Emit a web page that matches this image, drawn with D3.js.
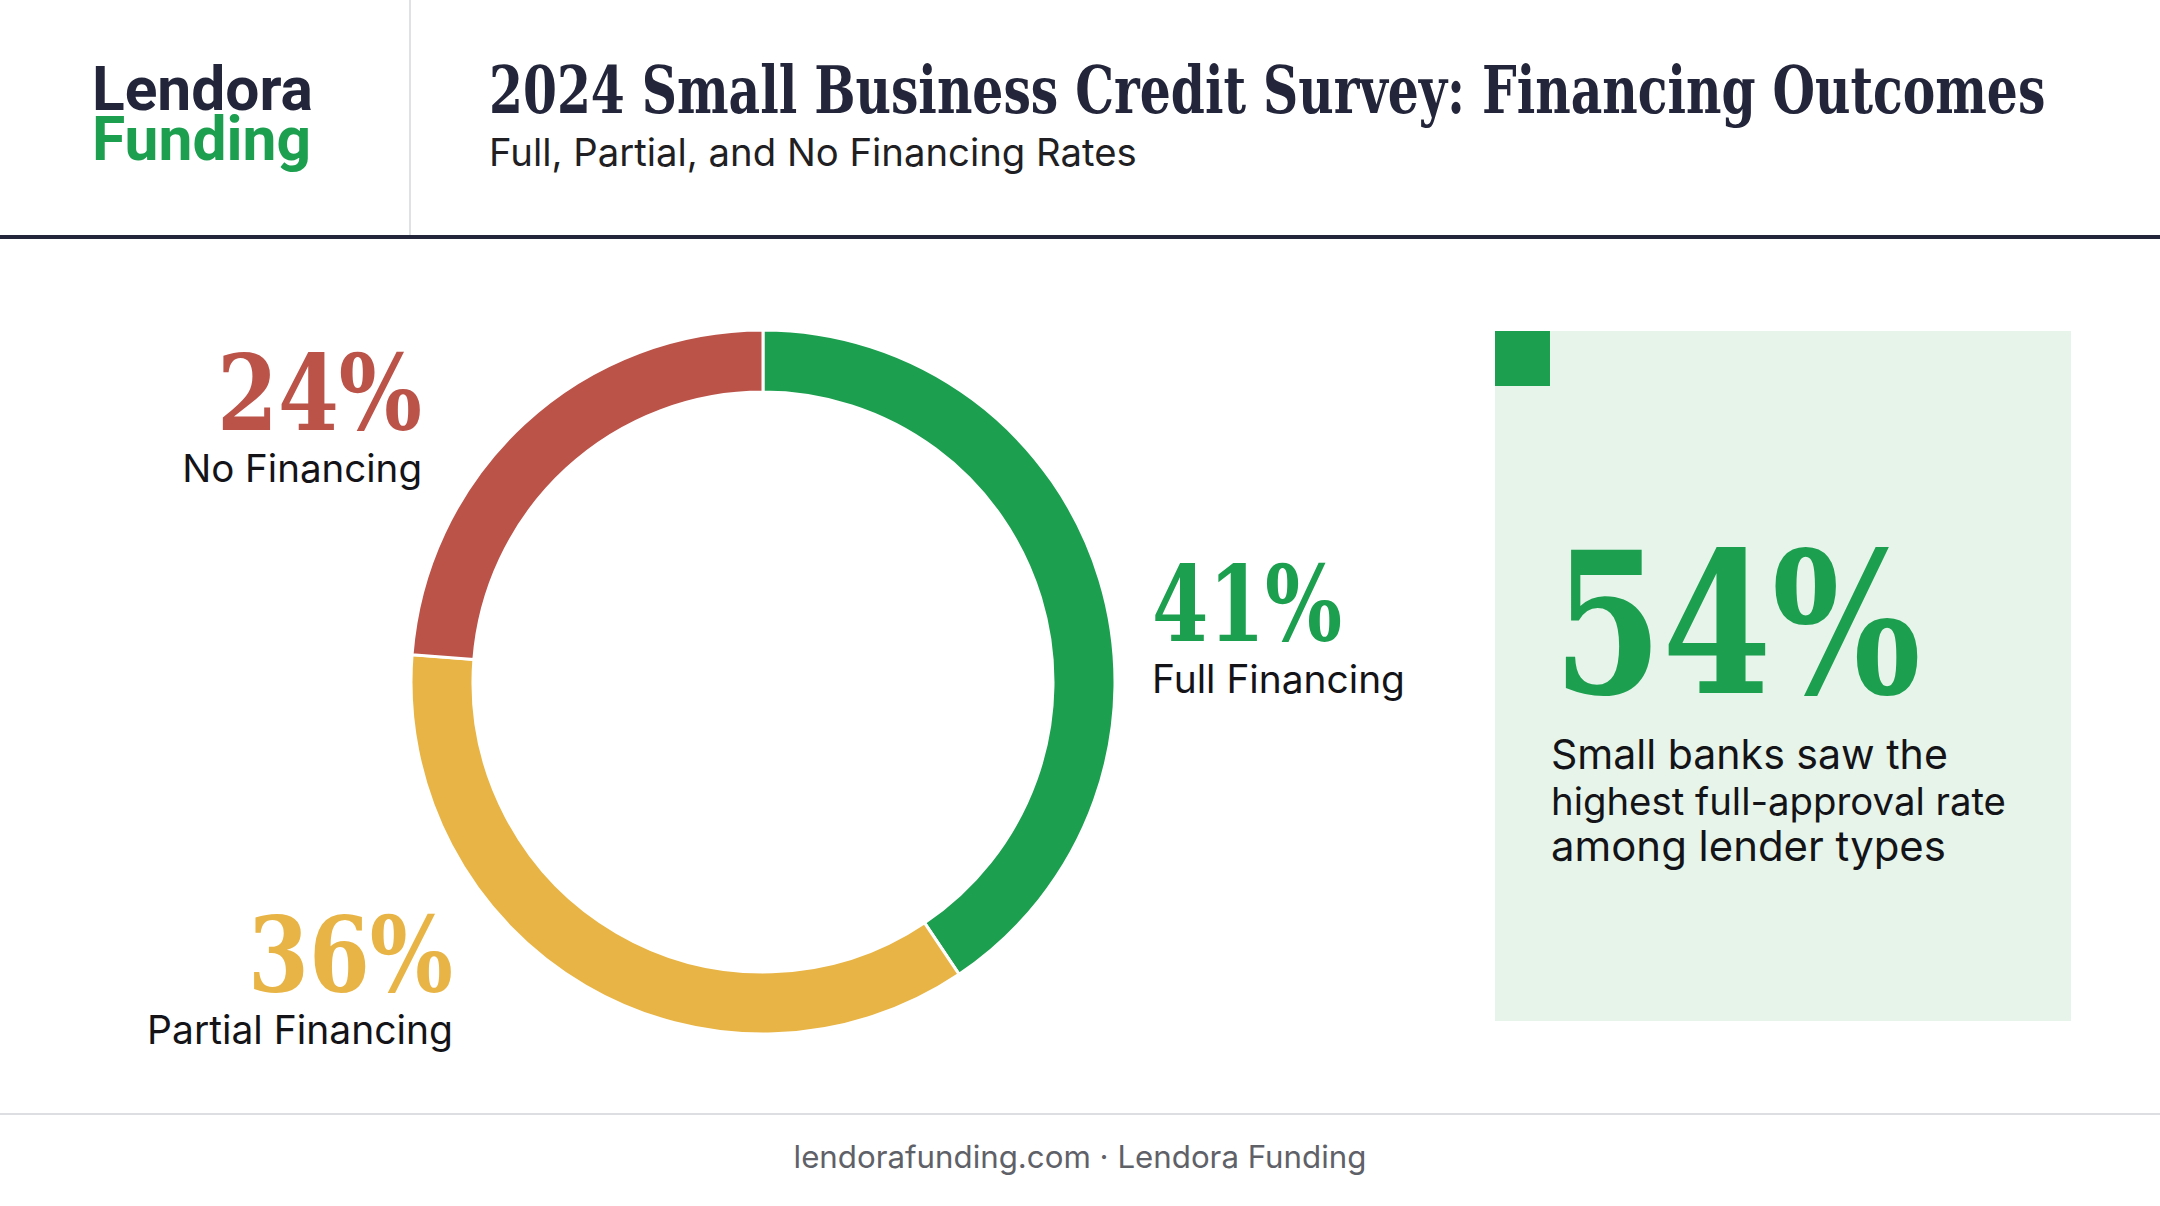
<!DOCTYPE html>
<html>
<head>
<meta charset="utf-8">
<script src="https://cdn.jsdelivr.net/npm/d3@7"></script>
<style>
  html, body { margin: 0; padding: 0; background: #ffffff; }
  svg { display: block; }
</style>
</head>
<body>
<script>
// ---- data ----
const categories = ["Full Financing", "Partial Financing", "No Financing"];
const values = [41, 36, 24];
const valueLabels = ["41%", "36%", "24%"];
const colors = ["#1c9f4f", "#e8b445", "#bb5349"];
const brandTop = "Lendora";
const brandBottom = "Funding";
const titleText = "2024 Small Business Credit Survey: Financing Outcomes";
const subtitleText = "Full, Partial, and No Financing Rates";
const calloutValue = "54%";
const calloutLines = ["Small banks saw the", "highest full-approval rate", "among lender types"];
const footerText = "lendorafunding.com \u00b7 Lendora Funding";

const W = 2160, H = 1206;
const dark = "#23263a";
const green = "#1c9f4f";
const slab = "'DejaVu Serif', serif";
const geo = "Inter, 'Noto Sans', sans-serif";

const svg = d3.select("body").append("svg").attr("width", W).attr("height", H);
svg.append("rect").attr("width", W).attr("height", H).attr("fill", "#ffffff");

function fit(sel, w) {
  const l = sel.node().getComputedTextLength();
  const fs = parseFloat(sel.attr("font-size"));
  sel.attr("font-size", fs * w / l);
  return sel;
}
// slab text with fixed font size, horizontally condensed to a target width
function slabText(x, y, txt, size, w, fill, anchor) {
  const grp = svg.append("g");
  const t = grp.append("text").attr("x", 0).attr("y", 0).text(txt)
    .attr("text-anchor", anchor || "start")
    .attr("font-family", slab).attr("font-weight", 700)
    .attr("font-size", size).attr("fill", fill);
  const l = t.node().getComputedTextLength();
  grp.attr("transform", `translate(${x},${y}) scale(${w / l},1)`);
  return t;
}

// ---- header ----
const lg1 = svg.append("text").attr("x", 92).attr("y", 110).text(brandTop)
  .attr("font-family", "Roboto, sans-serif").attr("font-weight", 700)
  .attr("font-size", 56).attr("fill", dark);
fit(lg1, 221);
const lg2 = svg.append("text").attr("x", 92).attr("y", 160).text(brandBottom)
  .attr("font-family", "Roboto, sans-serif").attr("font-weight", 700)
  .attr("font-size", 56).attr("fill", green);
fit(lg2, 219);

svg.append("line").attr("x1", 410).attr("x2", 410).attr("y1", 0).attr("y2", 235)
  .attr("stroke", "#d5d7dc").attr("stroke-width", 1.5);

slabText(489, 113, titleText, 66, 1557, dark);

const sub = svg.append("text").attr("x", 489).attr("y", 166).text(subtitleText)
  .attr("font-family", geo).attr("font-weight", 400)
  .attr("font-size", 32).attr("fill", "#1f1f24");
fit(sub, 648);

svg.append("rect").attr("x", 0).attr("y", 235).attr("width", W).attr("height", 4).attr("fill", dark);

// ---- donut ----
const cx = 763, cy = 682, R = 352, r = 290;
const pie = d3.pie().sort(null).value(d => d)(values);
const arc = d3.arc().innerRadius(r).outerRadius(R);
const g = svg.append("g").attr("transform", `translate(${cx},${cy})`);
g.selectAll("path").data(pie).join("path")
  .attr("d", arc)
  .attr("fill", (d, i) => colors[i])
  .attr("stroke", "#ffffff").attr("stroke-width", 3);

// labels: [x, valueBaseline, labelBaseline, anchor, valueWidth, labelWidth]
const labelPos = [
  [1152, 641, 693, "start", 190, 253],
  [453, 992, 1044, "end", 205, 306],
  [422, 430, 482, "end", 205, 240]
];
labelPos.forEach((p, i) => {
  slabText(p[0], p[1], valueLabels[i], 104, p[4], colors[i], p[3]);
  const l = svg.append("text").attr("x", p[0]).attr("y", p[2]).text(categories[i])
    .attr("text-anchor", p[3]).attr("font-family", geo).attr("font-weight", 400)
    .attr("font-size", 34).attr("fill", "#141418");
  fit(l, p[5]);
});

// ---- callout ----
svg.append("rect").attr("x", 1495).attr("y", 331).attr("width", 576).attr("height", 690)
  .attr("fill", "#e6f4ea");
svg.append("rect").attr("x", 1495).attr("y", 331).attr("width", 55).attr("height", 55)
  .attr("fill", green);
slabText(1553, 693, calloutValue, 196, 368, green);
const lineW = [397, 455, 395];
calloutLines.forEach((t, i) => {
  const s = svg.append("text").attr("x", 1551).attr("y", 769 + i * 46).text(t)
    .attr("font-family", geo).attr("font-weight", 400)
    .attr("font-size", 34).attr("fill", "#141418");
  fit(s, lineW[i]);
});

// ---- footer ----
svg.append("line").attr("x1", 0).attr("x2", W).attr("y1", 1114).attr("y2", 1114)
  .attr("stroke", "#dcdee2").attr("stroke-width", 2);
const ft = svg.append("text").attr("x", 1080).attr("y", 1168).text(footerText)
  .attr("text-anchor", "middle").attr("font-family", geo).attr("font-weight", 400)
  .attr("font-size", 30).attr("fill", "#5f6168");
fit(ft, 573);
</script>
</body>
</html>
